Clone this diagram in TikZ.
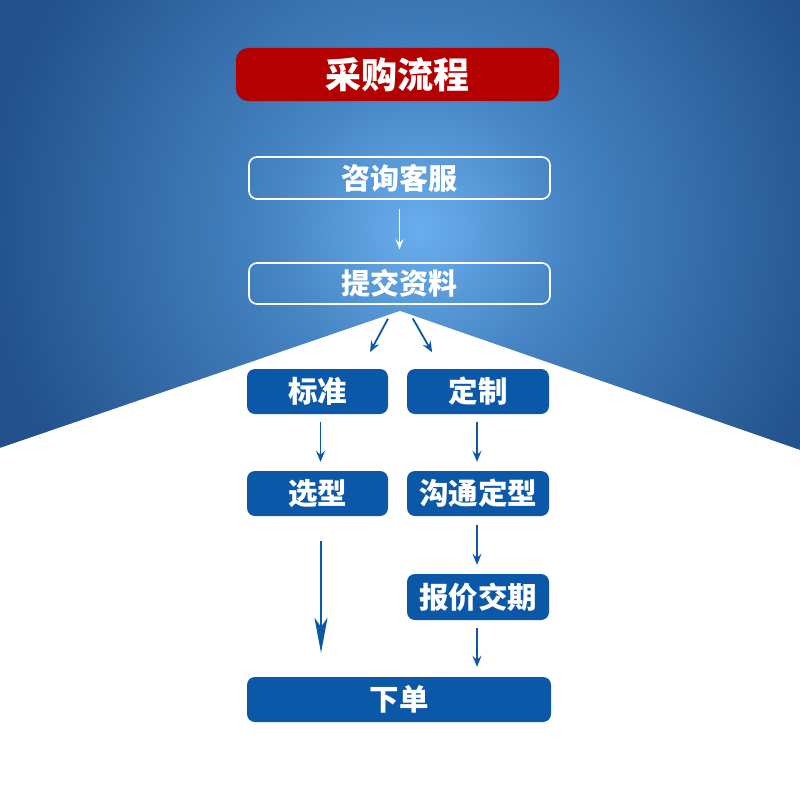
\documentclass[tikz,border=0pt]{standalone}
\usepackage{fontspec}
\newfontfamily\cjk{Noto Sans CJK SC}[BoldFont={Noto Sans CJK SC Black}]
\usetikzlibrary{arrows.meta,calc}
\definecolor{bgdark}{HTML}{21508A}
\definecolor{bgmid}{HTML}{4583C2}
\definecolor{bglight}{HTML}{6AAEEE}
\definecolor{boxblue}{HTML}{0B58A8}
\definecolor{titlered}{HTML}{B30000}
\pgfdeclareradialshading{bgshade}{\pgfpoint{0bp}{0bp}}{color(0bp)=(bglight); color(8bp)=(bgmid); color(23bp)=(bgdark); color(50bp)=(bgdark)}
\tikzset{
  titlebox/.style={fill=titlered, rounded corners=12pt, minimum width=323pt, minimum height=53pt, inner sep=0pt, text=white, font=\cjk\bfseries\fontsize{36}{36}\selectfont},
  outlinebox/.style={draw=white, line width=1.6pt, rounded corners=8pt, minimum width=301pt, minimum height=42pt, inner sep=0pt, text=white, font=\cjk\bfseries\fontsize{29}{29}\selectfont},
  bluebox/.style={fill=boxblue, rounded corners=8pt, minimum height=45pt, inner sep=0pt, text=white, font=\cjk\bfseries\fontsize{29.5}{29.5}\selectfont},
  bluearrow/.style={draw=boxblue, line width=1.8pt, -{Stealth[length=11pt,width=9pt,inset=4pt]}},
  longarrow/.style={draw=boxblue, line width=2pt, -{Stealth[length=35pt,width=13pt,inset=9pt]}},
  whitearrow/.style={draw=white, line width=1.2pt, -{Stealth[length=10pt,width=8pt,inset=4pt]}}
}
\begin{document}
\begin{tikzpicture}[x=1pt,y=-1pt]
\useasboundingbox (0,0) rectangle (800,800);
\begin{scope}
  \clip (0,0) rectangle (800,800);
  \shade[shading=bgshade] (420,230) circle (480);
  \fill[white] (0,448) -- (400,311) -- (800,450) -- (800,800) -- (0,800) -- cycle;
\end{scope}

\node[titlebox] (title) at (397.5,74.5) {采购流程};
\node[outlinebox] (consult) at (399.5,178) {咨询客服};
\node[outlinebox, minimum height=41pt] (submit) at (399.5,283.5) {提交资料};
\node[bluebox, minimum width=141pt] (std) at (317.5,391.5) {标准};
\node[bluebox, minimum width=142pt] (def) at (478,391.5) {定制};
\node[bluebox, minimum width=141pt] (sel) at (317.5,493.5) {选型};
\node[bluebox, minimum width=142pt] (comm) at (478,493.5) {沟通定型};
\node[bluebox, minimum width=142pt, minimum height=46pt] (quote) at (478,597) {报价交期};
\node[bluebox, minimum width=304pt] (order) at (399,699.5) {下单};

\coordinate (selout) at ($(sel.south)+(3.5,0)$);
\coordinate (selin) at (selout |- order.north);
\coordinate (quoteout) at ($(quote.south)+(-1,0)$);
\coordinate (quotein) at (quoteout |- order.north);

\draw[whitearrow, shorten <=9pt, shorten >=13pt] (consult.south) -- (consult.south |- submit.north);
\draw[bluearrow, shorten <=15.8pt, shorten >=19pt] ($(submit.south)+(-4,0)$) -- ($(std.north)+(43.5,0)$);
\draw[bluearrow, shorten <=15.8pt, shorten >=19pt] ($(submit.south)+(5.5,0)$) -- ($(def.north)+(-36.5,0)$);
\draw[bluearrow, shorten <=8pt, shorten >=9pt] ($(std.south)+(3,0)$) -- ($(sel.north)+(3,0)$);
\draw[bluearrow, shorten <=8pt, shorten >=9pt] ($(def.south)+(-1,0)$) -- ($(comm.north)+(-1,0)$);
\draw[longarrow, shorten <=25pt, shorten >=24pt] (selout) -- (selin);
\draw[bluearrow, shorten <=9pt, shorten >=9pt] ($(comm.south)+(-1,0)$) -- ($(quote.north)+(-1,0)$);
\draw[bluearrow, shorten <=8pt, shorten >=10pt] (quoteout) -- (quotein);
\end{tikzpicture}
\end{document}
